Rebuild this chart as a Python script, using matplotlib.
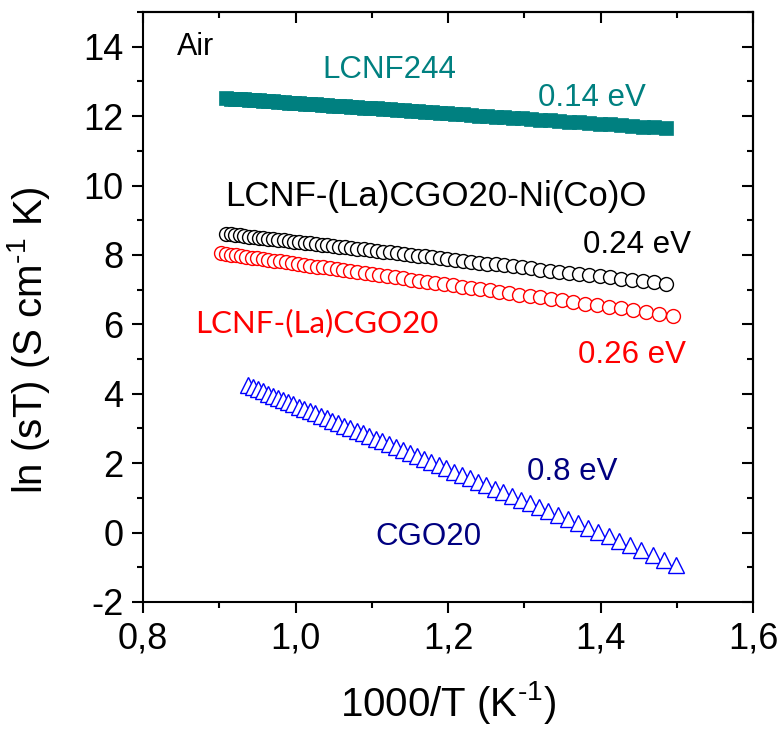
import matplotlib
matplotlib.use("Agg")
import numpy as np
import matplotlib.pyplot as plt
from matplotlib.ticker import MultipleLocator, FuncFormatter

# temperatures (K) and ln(sigma*T)
temp_lcnf = [1100, 1093, 1086, 1079, 1072, 1065, 1058, 1051, 1044, 1037,
             1030, 1023, 1016, 1009, 1002, 995, 988, 981, 974, 967,
             960, 953, 946, 939, 932, 925, 918, 911, 904, 897,
             890, 883, 876, 869, 862, 855, 848, 841, 834, 827,
             820, 813, 806, 799, 792, 785, 778, 771, 764, 757,
             750, 743, 736, 729, 722, 715, 708, 701, 694, 687,
             680, 673]

ln_lcnf244 = [12.516, 12.508, 12.499, 12.490, 12.481, 12.472, 12.462, 12.453, 12.443, 12.434,
              12.424, 12.414, 12.404, 12.393, 12.383, 12.372, 12.362, 12.351, 12.340, 12.329,
              12.318, 12.306, 12.294, 12.283, 12.271, 12.258, 12.246, 12.233, 12.221, 12.208,
              12.195, 12.181, 12.168, 12.154, 12.140, 12.126, 12.111, 12.096, 12.081, 12.066,
              12.051, 12.035, 12.019, 12.003, 11.986, 11.969, 11.952, 11.934, 11.917, 11.898,
              11.880, 11.861, 11.842, 11.822, 11.802, 11.782, 11.761, 11.740, 11.719, 11.697,
              11.674, 11.651]

ln_composite_ni = [8.606, 8.592, 8.577, 8.562, 8.547, 8.532, 8.517, 8.501, 8.485, 8.469,
                   8.453, 8.436, 8.419, 8.402, 8.385, 8.368, 8.350, 8.332, 8.314, 8.295,
                   8.276, 8.257, 8.238, 8.218, 8.198, 8.178, 8.158, 8.137, 8.116, 8.094,
                   8.072, 8.050, 8.028, 8.005, 7.981, 7.958, 7.934, 7.909, 7.884, 7.859,
                   7.833, 7.807, 7.781, 7.754, 7.726, 7.698, 7.670, 7.640, 7.611, 7.581,
                   7.550, 7.519, 7.487, 7.454, 7.421, 7.388, 7.353, 7.318, 7.282, 7.246,
                   7.208, 7.170]

temp_composite = [1109, 1101, 1093, 1085, 1077, 1069, 1061, 1053, 1045, 1037,
                  1029, 1021, 1013, 1005, 997, 989, 981, 973, 965, 957,
                  949, 941, 933, 925, 917, 909, 901, 893, 885, 877,
                  869, 861, 853, 845, 837, 829, 821, 813, 805, 797,
                  789, 781, 773, 765, 757, 749, 741, 733, 725, 717,
                  709, 701, 693, 685, 677, 669]

ln_composite = [8.048, 8.028, 8.008, 7.987, 7.967, 7.946, 7.924, 7.903, 7.881, 7.858,
                7.835, 7.812, 7.789, 7.765, 7.741, 7.716, 7.691, 7.666, 7.640, 7.614,
                7.587, 7.560, 7.532, 7.504, 7.476, 7.447, 7.417, 7.387, 7.356, 7.325,
                7.293, 7.261, 7.228, 7.194, 7.160, 7.125, 7.089, 7.053, 7.016, 6.978,
                6.940, 6.900, 6.860, 6.819, 6.777, 6.735, 6.691, 6.646, 6.601, 6.554,
                6.506, 6.458, 6.408, 6.357, 6.304, 6.251]

temp_cgo = [1066, 1059, 1052, 1045, 1038, 1031, 1024, 1017, 1010, 1003,
            996, 989, 982, 975, 968, 961, 954, 947, 940, 933,
            926, 919, 912, 905, 898, 891, 884, 877, 870, 863,
            856, 849, 842, 835, 828, 821, 814, 807, 800, 793,
            786, 779, 772, 765, 758, 751, 744, 737, 730, 723,
            716, 709, 702, 695, 688, 681, 674, 667]

ln_cgo = [4.240, 4.183, 4.125, 4.066, 4.007, 3.947, 3.886, 3.824, 3.761, 3.698,
          3.633, 3.568, 3.501, 3.434, 3.366, 3.297, 3.226, 3.155, 3.083, 3.009,
          2.935, 2.859, 2.782, 2.704, 2.625, 2.545, 2.463, 2.380, 2.295, 2.210,
          2.122, 2.034, 1.944, 1.852, 1.759, 1.664, 1.568, 1.470, 1.370, 1.269,
          1.165, 1.060, 0.953, 0.844, 0.733, 0.620, 0.504, 0.387, 0.267, 0.145,
          0.021, -0.106, -0.235, -0.367, -0.502, -0.640, -0.780, -0.923]

plt.rcParams["font.family"] = ["Liberation Sans", "DejaVu Sans"]
plt.rcParams["mathtext.fontset"] = "custom"
plt.rcParams["mathtext.rm"] = "Liberation Sans"
plt.rcParams["mathtext.it"] = "Liberation Sans"

teal = "#008080"
navy = "#000080"

fig = plt.figure(figsize=(7.82, 7.31), dpi=100)
ax = fig.add_axes([0.183, 0.1765, 0.780, 0.807])


def inv(temps):
    return 1000.0 / np.array(temps, dtype=float)


ax.plot(inv(temp_lcnf), ln_lcnf244, ls="none", marker="s", ms=9.5,
        mfc=teal, mec=teal, mew=0.5, zorder=3)
ax.plot(inv(temp_lcnf), ln_composite_ni, ls="none", marker="o", ms=10,
        mfc="white", mec="black", mew=1.0, zorder=4)
ax.plot(inv(temp_composite), ln_composite, ls="none", marker="o", ms=10,
        mfc="white", mec="red", mew=1.0, zorder=4)
ax.plot(inv(temp_cgo), ln_cgo, ls="none", marker="^", ms=11,
        mfc="white", mec="blue", mew=1.0, zorder=5)

ax.set_xlim(0.8, 1.6)
ax.set_ylim(-2, 15)
ax.xaxis.set_major_locator(MultipleLocator(0.2))
ax.xaxis.set_minor_locator(MultipleLocator(0.1))
ax.yaxis.set_major_locator(MultipleLocator(2))
ax.yaxis.set_minor_locator(MultipleLocator(1))
ax.xaxis.set_major_formatter(FuncFormatter(lambda v, p: f"{v:.1f}".replace(".", ",")))
ax.yaxis.set_major_formatter(FuncFormatter(lambda v, p: f"{v:.0f}" if v < 14.5 else ""))

ax.tick_params(which="major", direction="out", length=8, width=1.5,
               labelsize=26, pad=6)
ax.tick_params(which="minor", direction="out", length=4, width=1.5)
for s in ax.spines.values():
    s.set_linewidth(1.5)

# mirrored ticks pointing inward on top and right
top = ax.secondary_xaxis("top")
right = ax.secondary_yaxis("right")
top.xaxis.set_major_locator(MultipleLocator(0.2))
top.xaxis.set_minor_locator(MultipleLocator(0.1))
right.yaxis.set_major_locator(MultipleLocator(2))
right.yaxis.set_minor_locator(MultipleLocator(1))
for sec in (top, right):
    sec.tick_params(which="major", direction="in", length=8, width=1.5,
                    labelleft=False, labelright=False, labeltop=False)
    sec.tick_params(which="minor", direction="in", length=4, width=1.5)
    for s in sec.spines.values():
        s.set_linewidth(1.5)

ax.set_xlabel("1000/T (K$^{\\text{-1}}$)", fontsize=29)
ax.set_ylabel("ln (sT) (S cm$^{\\text{-1}}$ K)", fontsize=29)
ax.xaxis.set_label_coords(0.5, -0.13)
ax.yaxis.set_label_coords(-0.149, 0.444)

fs = 22.5
ax.text(0.845, 13.77, "Air", fontsize=22, color="black")
ax.text(1.035, 13.10, "LCNF244", fontsize=fs, color=teal)
ax.text(1.318, 12.28, "0.14 eV", fontsize=fs, color=teal)
ax.text(0.9075, 9.42, "LCNF-(La)CGO20-Ni(Co)O", fontsize=25, color="black")
ax.text(1.377, 8.06, "0.24 eV", fontsize=fs, color="black")
ax.text(0.868, 5.78, "LCNF-(La)CGO20", fontsize=fs, color="red",
        family=["Lato", "DejaVu Sans"])
ax.text(1.370, 4.89, "0.26 eV", fontsize=fs, color="red")
ax.text(1.3036, 1.52, "0.8 eV", fontsize=fs, color=navy)
ax.text(1.104, -0.355, "CGO20", fontsize=fs, color=navy)

fig.savefig("out.png", dpi=100)
